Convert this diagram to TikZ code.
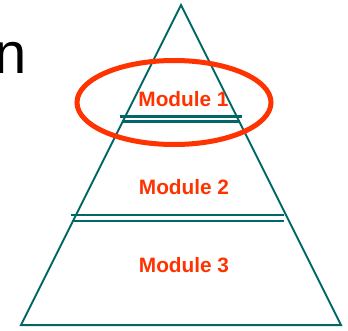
\documentclass[tikz,border=0pt]{standalone}
\usepackage{fontspec}
\setmainfont{Liberation Sans}
\definecolor{teal}{RGB}{0,102,102}
\definecolor{accent}{RGB}{255,51,0}
\begin{document}
\begin{tikzpicture}[x=1pt,y=-1pt,
  edge/.style={draw=teal,line width=2pt},
  divider/.style={draw=teal,line width=2.4pt},
  modlabel/.style={text=accent,font=\fontsize{20.8}{24}\selectfont\bfseries,anchor=base,inner sep=0pt},
  ring/.style={draw=accent,line width=5pt}]
  \useasboundingbox (0,0) rectangle (348,330);
  % outline of the pyramid
  \coordinate (apex) at (181,5);
  \coordinate (bl) at (21,325);
  \coordinate (br) at (341,325);
  \draw[edge,line join=miter] (apex) -- (bl) -- (br) -- cycle;
  % double dividers between the modules
  \coordinate (d1a) at (120,116.5); \coordinate (d1b) at (242,116.5);
  \coordinate (d1c) at (122,121.5); \coordinate (d1d) at (240,121.5);
  \draw[divider] (d1a) -- (d1b);
  \draw[divider] (d1c) -- (d1d);
  \coordinate (d2a) at (71,215); \coordinate (d2b) at (284,215);
  \coordinate (d2c) at (72,221); \coordinate (d2d) at (284,221);
  \draw[divider] (d2a) -- (d2b);
  \draw[divider] (d2c) -- (d2d);
  % module labels
  \node[modlabel] (m1) at (183.5,106) {Module 1};
  \node[modlabel] (m2) at (184,194) {Module 2};
  \node[modlabel] (m3) at (184,272) {Module 3};
  % highlight ring round the top module
  \draw[ring] (174,102.5) ellipse [x radius=97, y radius=42];
  % trailing letter of the heading
  \node[anchor=base west,inner sep=0pt,font=\fontsize{58}{60}\selectfont] (hd) at (-5.4,73) {n};
\end{tikzpicture}
\end{document}
